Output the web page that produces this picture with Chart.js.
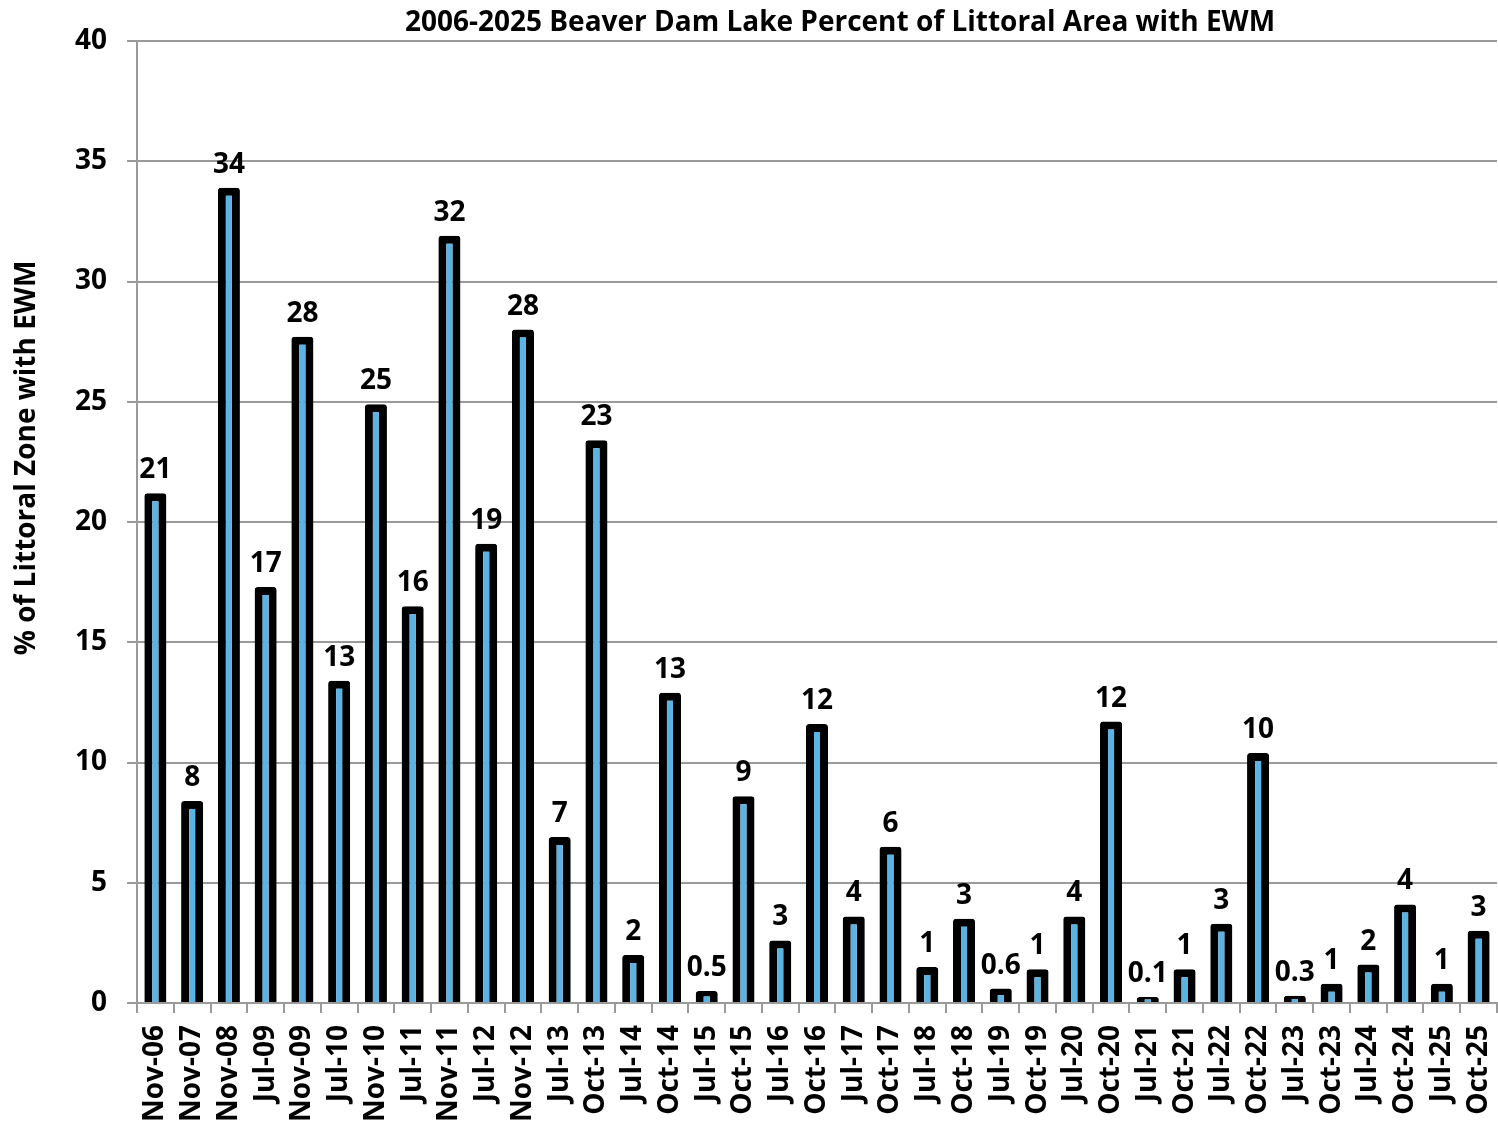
<!DOCTYPE html>
<html>
<head>
<meta charset="utf-8">
<script src="https://cdn.jsdelivr.net/npm/chart.js@4"></script>
<style>
  html, body { margin: 0; padding: 0; background: #fff; }
  #wrap { width: 1498px; height: 1127px; }
</style>
</head>
<body>
<div id="wrap"><canvas id="ewmChart"></canvas></div>
<script>
const surveys = ['Nov-06', 'Nov-07', 'Nov-08', 'Jul-09', 'Nov-09', 'Jul-10', 'Nov-10', 'Jul-11', 'Nov-11', 'Jul-12',
    'Nov-12', 'Jul-13', 'Oct-13', 'Jul-14', 'Oct-14', 'Jul-15', 'Oct-15', 'Jul-16', 'Oct-16', 'Jul-17',
    'Oct-17', 'Jul-18', 'Oct-18', 'Jul-19', 'Oct-19', 'Jul-20', 'Oct-20', 'Jul-21', 'Oct-21', 'Jul-22',
    'Oct-22', 'Jul-23', 'Oct-23', 'Jul-24', 'Oct-24', 'Jul-25', 'Oct-25'];

const ewmPercent = [21.2, 8.4, 33.9, 17.3, 27.7, 13.4, 24.9, 16.5, 31.9, 19.1,
    28.0, 6.9, 23.4, 2.0, 12.9, 0.5, 8.6, 2.6, 11.6, 3.6,
    6.5, 1.5, 3.5, 0.6, 1.4, 3.6, 11.7, 0.1, 1.4, 3.3,
    10.4, 0.3, 0.8, 1.6, 4.1, 0.8, 3.0];

const ewmLabels = ['21', '8', '34', '17', '28', '13', '25', '16', '32', '19',
    '28', '7', '23', '2', '13', '0.5', '9', '3', '12', '4',
    '6', '1', '3', '0.6', '1', '4', '12', '0.1', '1', '3',
    '10', '0.3', '1', '2', '4', '1', '3'];

const yTicks = [0, 5, 10, 15, 20, 25, 30, 35, 40];

const chartTitle = '2006-2025 Beaver Dam Lake Percent of Littoral Area with EWM';
const yTitle = '% of Littoral Zone with EWM';

const FONT = '"Open Sans", "DejaVu Sans", sans-serif';

// numbers above the bars + the two titles (placed like the Excel original)
const chartText = {
    id: 'chartText',
    afterDatasetsDraw(chart) {
        const ctx = chart.ctx;
        const meta = chart.getDatasetMeta(0);
        ctx.save();
        ctx.font = 'bold 28px ' + FONT;
        ctx.fillStyle = '#000';
        ctx.textAlign = 'center';
        ctx.textBaseline = 'alphabetic';
        meta.data.forEach((bar, i) => {
            ctx.fillText(ewmLabels[i], bar.x, bar.y - 15);
        });

        ctx.fillText(chartTitle, 840, 31);

        ctx.translate(35, 458);
        ctx.rotate(-Math.PI / 2);
        ctx.fillText(yTitle, 0, 0);
        ctx.restore();
    }
};

new Chart(document.getElementById('ewmChart'), {
    type: 'bar',
    data: {
        labels: surveys,
        datasets: [{
            data: ewmPercent,
            backgroundColor: '#5BB3E4',
            borderColor: '#000',
            borderWidth: 8,
            borderRadius: 3,
            minBarLength: 6,
            barPercentage: 0.6,
            categoryPercentage: 1
        }]
    },
    options: {
        responsive: true,
        maintainAspectRatio: false,
        animation: false,
        layout: { padding: { left: 0, right: 1, top: 41, bottom: 0 } },
        plugins: {
            legend: { display: false },
            tooltip: { enabled: false },
            title: { display: false }
        },
        scales: {
            x: {
                afterFit(axis) {
                    axis.height = 124;
                    axis.paddingLeft = 0;
                    axis.paddingRight = 0;
                },
                grid: { display: true, drawOnChartArea: false, color: '#9a9a9a', lineWidth: 2, tickLength: 10, offset: true },
                border: { color: '#9a9a9a', width: 2 },
                ticks: {
                    color: '#000',
                    font: { family: FONT, size: 28, weight: 'bold' },
                    minRotation: 90,
                    maxRotation: 90,
                    autoSkip: false,
                    padding: 12
                }
            },
            y: {
                min: 0,
                max: 40,
                afterBuildTicks(axis) { axis.ticks = yTicks.map(v => ({ value: v })); },
                afterFit(axis) {
                    axis.width = 137;
                    axis.paddingTop = 0;
                    axis.paddingBottom = 0;
                },
                grid: { color: '#9a9a9a', lineWidth: 2, tickLength: 10 },
                border: { color: '#9a9a9a', width: 2 },
                ticks: {
                    color: '#000',
                    font: { family: FONT, size: 28, weight: 'bold' },
                    padding: 20
                }
            }
        }
    },
    plugins: [chartText]
});
</script>
</body>
</html>
